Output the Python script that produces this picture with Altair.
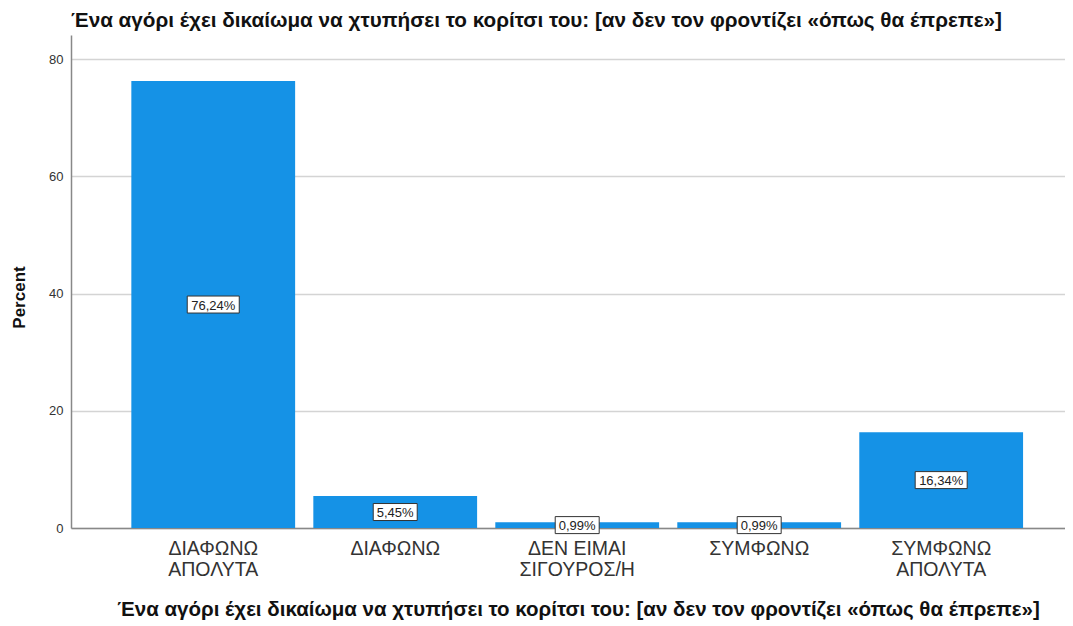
import altair as alt
import pandas as pd

categories = ["ΔΙΑΦΩΝΩ\nΑΠΟΛΥΤΑ", "ΔΙΑΦΩΝΩ", "ΔΕΝ ΕΙΜΑΙ\nΣΙΓΟΥΡΟΣ/Η", "ΣΥΜΦΩΝΩ", "ΣΥΜΦΩΝΩ\nΑΠΟΛΥΤΑ"]
percents = [76.24, 5.45, 0.99, 0.99, 16.34]
labels = ["76,24%", "5,45%", "0,99%", "0,99%", "16,34%"]
y_ticks = [0, 20, 40, 60, 80]

title_text = "Ένα αγόρι έχει δικαίωμα να χτυπήσει το κορίτσι του: [αν δεν τον φροντίζει «όπως θα έπρεπε»]"

df = pd.DataFrame({"cat": categories, "pct": percents, "label": labels})

FONT = "Liberation Sans"
W, H = 994, 493

x_enc = alt.X(
    "cat:N",
    sort=categories,
    scale=alt.Scale(paddingInner=0.1, paddingOuter=0.281, align=0.59),
    axis=alt.Axis(
        title=title_text,
        labelAngle=0,
        labelExpr="split(datum.label, '\\n')",
        labelFontSize=19.5,
        labelFont=FONT,
        labelColor="#333333",
        labelPadding=11,
        labelLineHeight=21,
        ticks=False,
        domainColor="#888888",
        domainWidth=1.5,
        titleFont=FONT,
        titleFontSize=20.5,
        titleFontWeight="bold",
        titleColor="#111111",
        titleX=507,
        titleY=81,
        titleAlign="center",
        titleBaseline="middle",
        grid=False,
    ),
)

bars = alt.Chart(df).mark_bar(color="#1592e6").encode(
    x=x_enc,
    y=alt.Y(
        "pct:Q",
        scale=alt.Scale(domain=[0, 84.1], nice=False, zero=True),
        axis=alt.Axis(
            title="Percent",
            values=y_ticks,
            labelFont=FONT,
            labelFontSize=13,
            labelColor="#333333",
            labelPadding=8,
            ticks=False,
            domainColor="#888888",
            domainWidth=1.5,
            gridColor="#d4d4d4",
            gridWidth=1.5,
            titleFont=FONT,
            titleFontSize=17,
            titleFontWeight="bold",
            titleColor="#111111",
            titleAngle=-90,
            titleX=-52,
            titleY=262,
            titleAlign="center",
            titleBaseline="middle",
        ),
    ),
)

path_long = "M-1,-0.327L1,-0.327L1,0.327L-1,0.327Z"
path_short = "M-0.846,-0.327L0.846,-0.327L0.846,0.327L-0.846,0.327Z"

boxes = alt.Chart(df).transform_calculate(mid="datum.pct / 2").mark_point(
    filled=True, fill="white", fillOpacity=1, stroke="#333333", strokeWidth=1, opacity=1, size=2704
).encode(
    x=alt.X("cat:N", sort=categories),
    y=alt.Y("mid:Q"),
    shape=alt.condition("length(datum.label) > 5", alt.value(path_long), alt.value(path_short)),
)

texts = alt.Chart(df).transform_calculate(mid="datum.pct / 2").mark_text(
    font=FONT, fontSize=13, color="#222222", baseline="middle", align="center", dy=1
).encode(
    x=alt.X("cat:N", sort=categories),
    y=alt.Y("mid:Q"),
    text="label:N",
)

chart = alt.layer(bars, boxes, texts).properties(
    width=W,
    height=H,
    title=alt.TitleParams(
        text=title_text,
        anchor="start",
        frame="group",
        font=FONT,
        fontSize=20.7,
        fontWeight="bold",
        color="#111111",
        offset=3,
    ),
    autosize=alt.AutoSizeParams(type="none"),
    padding={"left": 63, "top": 27, "right": 0, "bottom": 98},
).configure_view(stroke=None)

chart.save("out.html", embed_options={"renderer": "svg", "actions": False})
